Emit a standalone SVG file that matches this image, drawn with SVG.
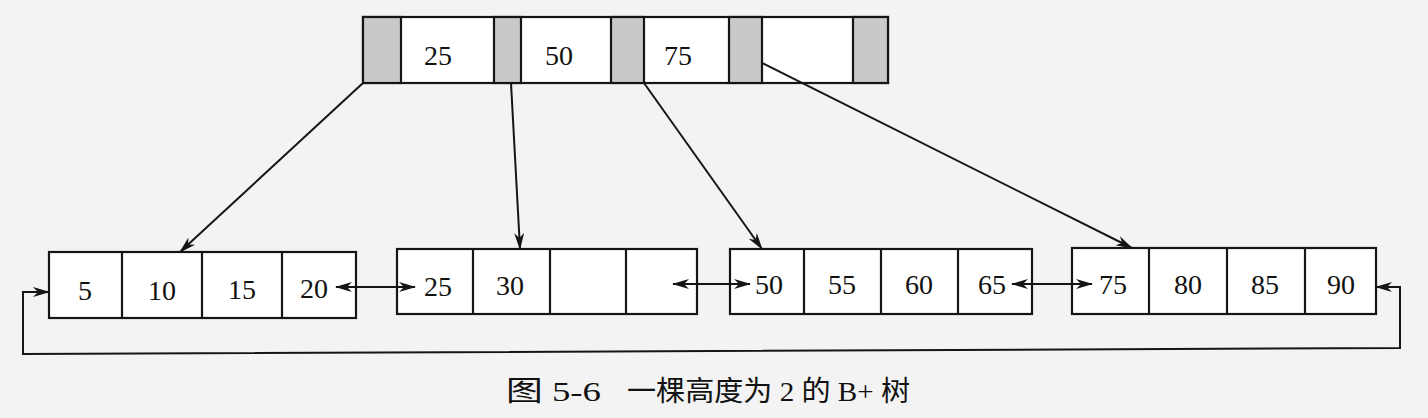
<svg xmlns="http://www.w3.org/2000/svg" width="1428" height="418" viewBox="0 0 1428 418">
<style>
.box{fill:#ffffff;stroke:#151515;stroke-width:2.2}
.gray{fill:#c9c9c9;stroke:#151515;stroke-width:2.2}
.div{stroke:#151515;stroke-width:2.2}
.num{font-family:"Liberation Serif","Times New Roman",serif;font-size:28px;fill:#111111;text-anchor:middle}
.cap{font-family:"Liberation Serif","Noto Sans CJK SC",serif;font-size:28px;fill:#111111}
.con{fill:none;stroke:#151515;stroke-width:2}
</style>
<defs>
<marker id="arr" markerUnits="userSpaceOnUse" markerWidth="18" markerHeight="12" refX="16" refY="5" orient="auto-start-reverse" viewBox="0 0 18 10">
<path d="M0,0 L17,5 L0,10 L5,5 z" fill="#151515"/>
</marker>
</defs>
<rect x="0" y="0" width="1428" height="418" fill="#f3f3f3"/>

<g id="root">
<rect class="box" x="363" y="17" width="525" height="66"/>
<rect class="gray" x="363" y="17" width="38" height="66"/>
<rect class="gray" x="494" y="17" width="27" height="66"/>
<rect class="gray" x="611" y="17" width="33" height="66"/>
<rect class="gray" x="729" y="17" width="33" height="66"/>
<rect class="gray" x="853" y="17" width="35" height="66"/>
<text class="num" x="438" y="65">25</text>
<text class="num" x="559" y="65">50</text>
<text class="num" x="678" y="65">75</text>
</g>

<g id="leaf1">
<rect class="box" x="49" y="252" width="307" height="66"/>
<line class="div" x1="122" y1="252" x2="122" y2="318"/>
<line class="div" x1="202" y1="252" x2="202" y2="318"/>
<line class="div" x1="282" y1="252" x2="282" y2="318"/>
<text class="num" x="85" y="300">5</text>
<text class="num" x="162" y="300">10</text>
<text class="num" x="242" y="299">15</text>
<text class="num" x="314" y="298">20</text>
</g>

<g id="leaf2">
<rect class="box" x="397" y="249" width="300" height="65"/>
<line class="div" x1="473" y1="249" x2="473" y2="314"/>
<line class="div" x1="550" y1="249" x2="550" y2="314"/>
<line class="div" x1="626" y1="249" x2="626" y2="314"/>
<text class="num" x="438" y="296">25</text>
<text class="num" x="510" y="295">30</text>
</g>

<g id="leaf3">
<rect class="box" x="730" y="249" width="302" height="65"/>
<line class="div" x1="804" y1="249" x2="804" y2="314"/>
<line class="div" x1="881" y1="249" x2="881" y2="314"/>
<line class="div" x1="958" y1="249" x2="958" y2="314"/>
<text class="num" x="769" y="294">50</text>
<text class="num" x="842" y="294">55</text>
<text class="num" x="919" y="294">60</text>
<text class="num" x="992" y="294">65</text>
</g>

<g id="leaf4">
<rect class="box" x="1072" y="248" width="304" height="66"/>
<line class="div" x1="1149" y1="248" x2="1149" y2="314"/>
<line class="div" x1="1227" y1="248" x2="1227" y2="314"/>
<line class="div" x1="1305" y1="248" x2="1305" y2="314"/>
<text class="num" x="1113" y="294">75</text>
<text class="num" x="1188" y="294">80</text>
<text class="num" x="1265" y="294">85</text>
<text class="num" x="1341" y="294">90</text>
</g>

<g id="connectors">
<line class="con" x1="363" y1="83" x2="180" y2="252" marker-end="url(#arr)"/>
<line class="con" x1="511" y1="83" x2="520" y2="249" marker-end="url(#arr)"/>
<line class="con" x1="644" y1="83" x2="762" y2="249" marker-end="url(#arr)"/>
<line class="con" x1="762" y1="63" x2="1132" y2="248" marker-end="url(#arr)"/>
<line class="con" x1="336" y1="287" x2="415" y2="287" marker-start="url(#arr)" marker-end="url(#arr)"/>
<line class="con" x1="673" y1="284" x2="750" y2="284" marker-start="url(#arr)" marker-end="url(#arr)"/>
<line class="con" x1="1012" y1="284" x2="1092" y2="284" marker-start="url(#arr)" marker-end="url(#arr)"/>
<path class="con" d="M49 292 H23 V354 L1400 348 V287 H1376" marker-start="url(#arr)" marker-end="url(#arr)"/>
</g>

<g id="caption">
<text class="cap" x="506" y="401" textLength="95" lengthAdjust="spacingAndGlyphs">图 5-6</text>
<text class="cap" x="627" y="401" textLength="283" lengthAdjust="spacingAndGlyphs">一棵高度为 2 的 B+ 树</text>
</g>
</svg>
